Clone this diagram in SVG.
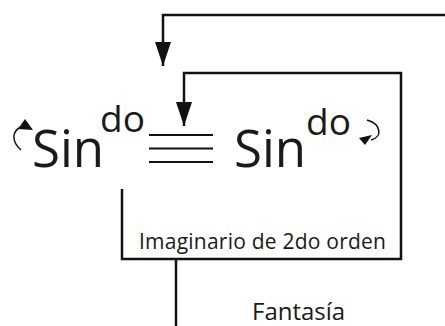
<svg xmlns="http://www.w3.org/2000/svg" width="445" height="326" viewBox="0 0 445 326">
  <style>
    .ln { fill: none; stroke: #111; stroke-width: 2.5; }
    .eq { stroke: #111; stroke-width: 2; }
    .sm { fill: none; stroke: #111; stroke-width: 1.5; }
    .hd { fill: #111; }
    .big { font-family: "Open Sans", "Noto Sans", sans-serif; font-size: 51px; fill: #1a1a1a; }
    .sup { font-family: "Open Sans", "Noto Sans", sans-serif; font-size: 37px; fill: #1a1a1a; }
    .lbl { font-family: "Open Sans", "Noto Sans", sans-serif; font-size: 21px; fill: #1a1a1a; }
    .lbl2 { font-family: "Open Sans", "Noto Sans", sans-serif; font-size: 24px; fill: #1a1a1a; }
  </style>
  <defs>
    <marker id="arr" markerUnits="userSpaceOnUse" markerWidth="26" markerHeight="18" refX="24" refY="8" orient="auto">
      <path d="M0,0 L24,8 L0,16 z" fill="#111"/>
    </marker>
  </defs>
  <rect width="445" height="326" fill="#fff"/>

  <g id="connectors">
    <path class="ln" d="M445,15 H163 V66" marker-end="url(#arr)"/>
    <path class="ln" d="M122,189 V259 H401 V73 H184 V126" marker-end="url(#arr)"/>
    <path class="ln" d="M176,259 V326"/>
  </g>

  <g id="sin-left">
    <path class="sm" d="M21,150 C11,141 12,131 21,127"/>
    <polygon class="hd" points="18,129 25,119 33,130"/>
    <text class="big" x="32" y="167">Sin</text>
    <text class="sup" x="100" y="132">do</text>
  </g>

  <g id="equiv">
    <line class="eq" x1="149" y1="135" x2="213" y2="135"/>
    <line class="eq" x1="149" y1="148.5" x2="213" y2="148.5"/>
    <line class="eq" x1="149" y1="162" x2="213" y2="162"/>
  </g>

  <g id="sin-right">
    <text class="big" x="234" y="167">Sin</text>
    <text class="sup" x="306" y="135">do</text>
    <path class="sm" d="M367,120 C381,124 383,137 371,140"/>
    <polygon class="hd" points="359,138 372,135 365,145"/>
  </g>

  <g id="imaginario">
    <text class="lbl" x="139" y="249" textLength="247">Imaginario de 2do orden</text>
  </g>

  <g id="fantasia">
    <text class="lbl2" x="252" y="319.5">Fantasía</text>
  </g>
</svg>
